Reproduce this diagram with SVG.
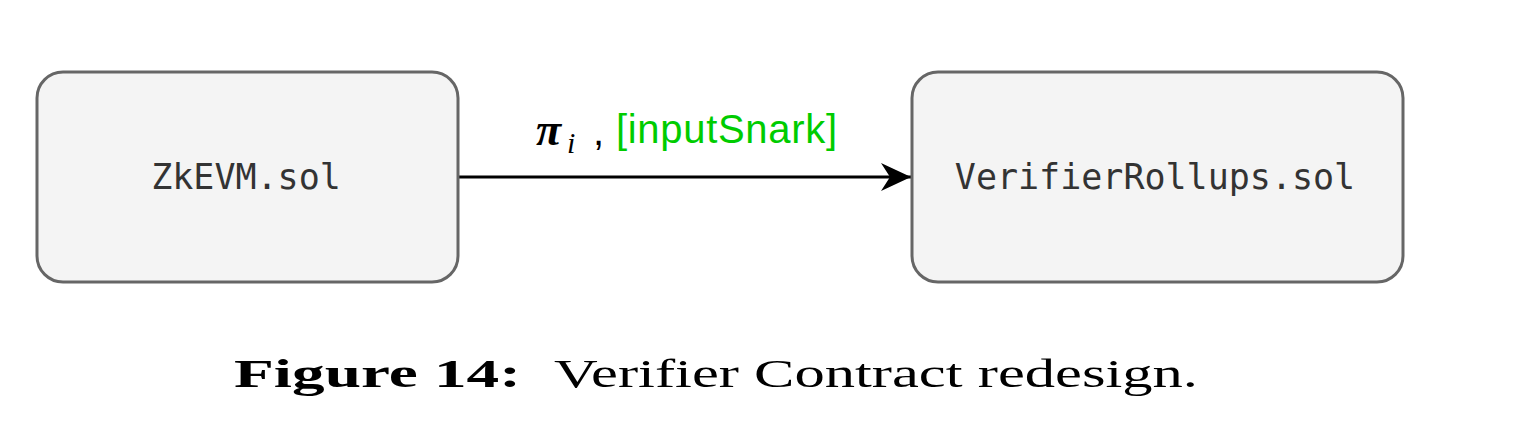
<svg xmlns="http://www.w3.org/2000/svg" width="1517" height="431" viewBox="0 0 1517 431">
<style>
.node{fill:#f4f4f4;stroke:#666666;stroke-width:3}
.mono{font-family:"DejaVu Sans Mono",monospace;font-size:35px;fill:#333333}
.cap{font-family:"Liberation Serif",serif;font-size:40px;fill:#000}
</style>
<defs>
<marker id="arr" markerUnits="userSpaceOnUse" markerWidth="32" markerHeight="32" refX="30" refY="16" orient="auto">
<path d="M0,2 L30,16 L0,30 L9,16 Z" fill="#000"/>
</marker>
</defs>
<rect width="1517" height="431" fill="#fff"/>
<g id="connectors">
<line x1="458" y1="177" x2="911" y2="177" stroke="#000" stroke-width="3" marker-end="url(#arr)"/>
<text x="536" y="145" font-family="Liberation Serif,serif" font-style="italic" font-weight="bold" font-size="46">π</text>
<text x="567" y="153" font-family="Liberation Serif,serif" font-style="italic" font-size="30">i</text>
<text x="593" y="145" font-family="Liberation Sans,sans-serif" font-size="40">,</text>
<text x="616" y="143" font-family="Liberation Sans,sans-serif" font-size="40" fill="#00cc00" textLength="221">[inputSnark]</text>
</g>
<g id="zkevm">
<rect class="node" x="37" y="72" width="421" height="210" rx="26"/>
<text class="mono" x="246" y="189" text-anchor="middle">ZkEVM.sol</text>
</g>
<g id="verifier">
<rect class="node" x="912" y="72" width="491" height="210" rx="26"/>
<text class="mono" x="1155" y="189" text-anchor="middle">VerifierRollups.sol</text>
</g>
<g id="caption">
<text class="cap" x="234" y="387" font-weight="bold" textLength="287" lengthAdjust="spacingAndGlyphs">Figure 14:</text>
<text class="cap" x="554" y="387" textLength="644" lengthAdjust="spacingAndGlyphs">Verifier Contract redesign.</text>
</g>
</svg>
